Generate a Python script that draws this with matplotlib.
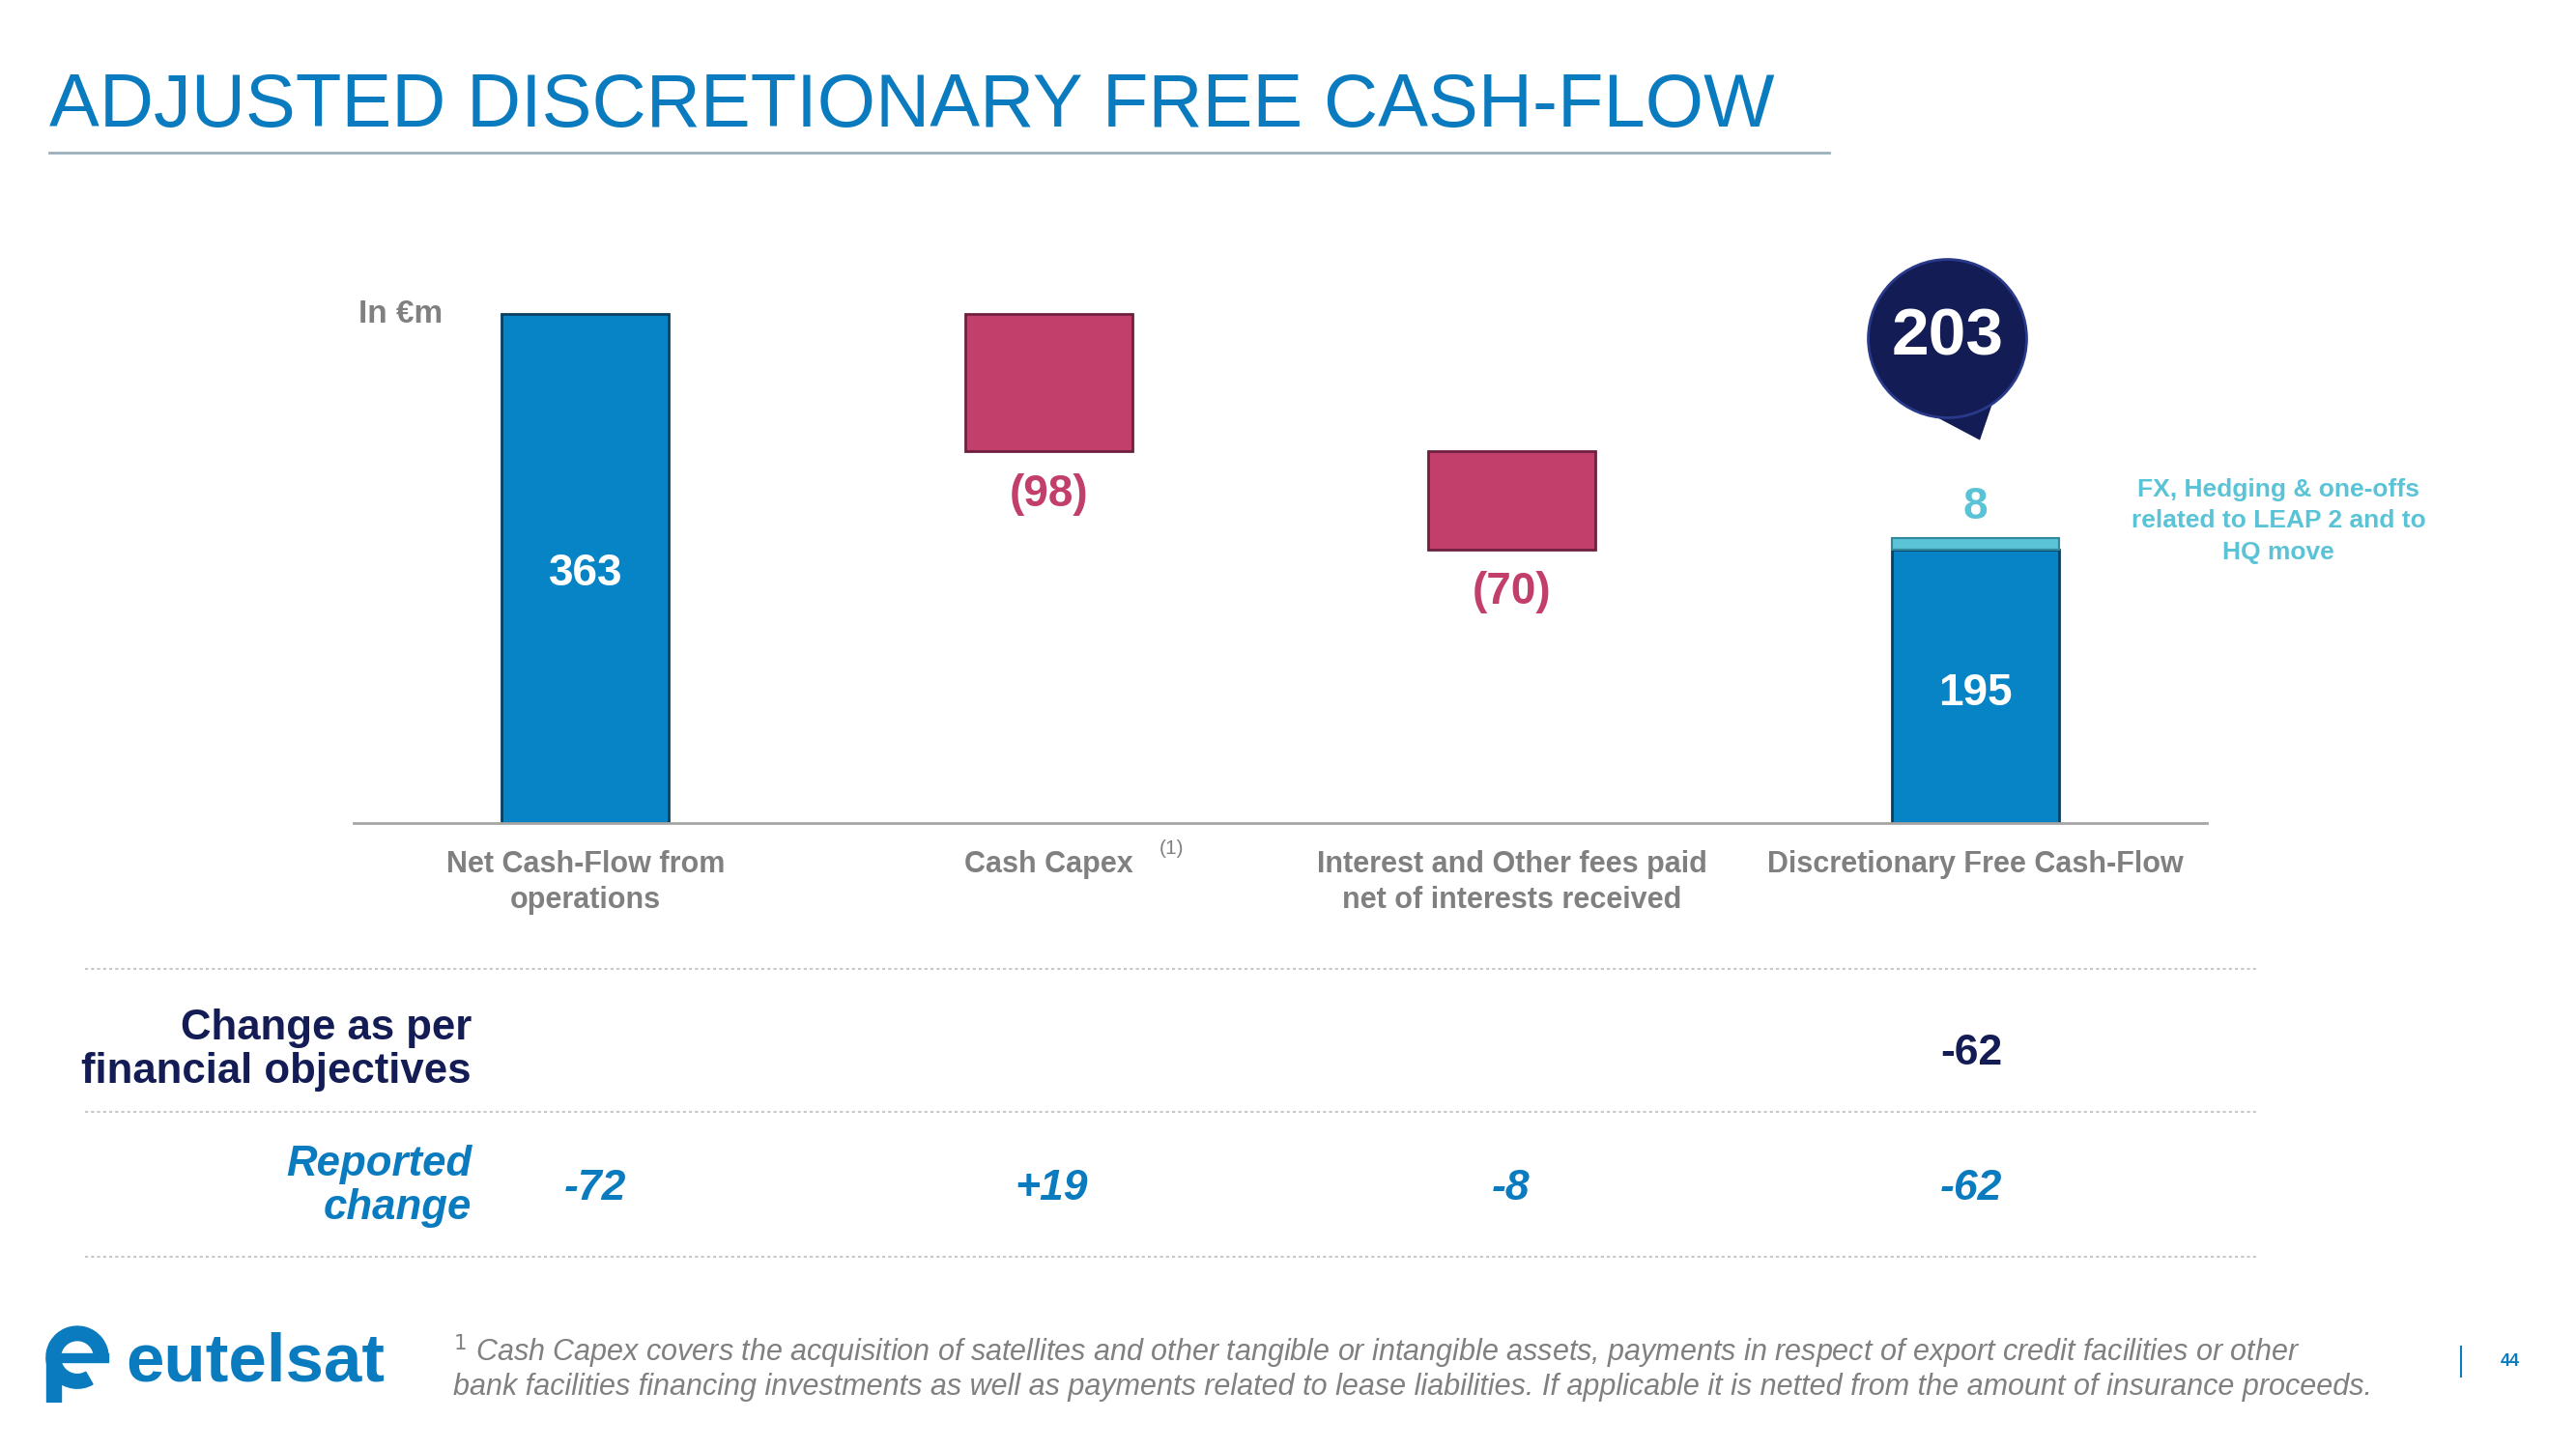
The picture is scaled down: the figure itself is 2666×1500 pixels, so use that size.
import matplotlib
matplotlib.use("Agg")
import matplotlib.pyplot as plt
from matplotlib.patches import Wedge, Rectangle
from matplotlib.lines import Line2D

plt.rcParams['font.family'] = ['Liberation Sans', 'DejaVu Sans']

# ---- data ----
categories = ["Net Cash-Flow from\noperations", "Cash Capex",
              "Interest and Other fees paid\nnet of interests received",
              "Discretionary Free Cash-Flow"]
flows = [363, -98, -70]          # waterfall steps
fcf_core = 195                   # last bar, blue part
fx_oneoffs = 8                   # teal part on top
fcf_total = 203
objective_change = ["", "", "", "-62"]
reported_change = ["-72", "+19", "-8", "-62"]

W, H = 2666, 1500
BLUE = "#0784C6"
PINK = "#C23F6C"
TEAL = "#5BC3D6"
NAVY = "#141C55"
GREY = "#808080"
TITLE_BLUE = "#0A7BBF"


def fx(x):
    return x / W


def fy(y):
    return 1 - y / H


fig = plt.figure(figsize=(W / 100, H / 100), dpi=100)
fig.patch.set_facecolor("white")

# title + underline
fig.text(fx(51), fy(110), "ADJUSTED DISCRETIONARY FREE CASH-FLOW", color=TITLE_BLUE,
         fontsize=56, ha="left", va="center")
fig.add_artist(Line2D([fx(51), fx(1893)], [fy(158), fy(158)], color="#9BB0BA", lw=2))

# ---- waterfall chart ----
ax = fig.add_axes([366 / W, fy(852), 1918 / W, (852 - 200) / H])
ax.set_xlim(-0.5, 3.5)
ax.set_ylim(0, 449)
bw = 0.36

running = 0
for i, v in enumerate(flows):
    bottom = running if v >= 0 else running + v
    col = BLUE if v >= 0 else PINK
    ax.bar(i, abs(v), bottom=bottom, width=bw, color=col,
           edgecolor="#0B3F5E" if v >= 0 else "#6E2040", linewidth=2)
    if v >= 0:
        ax.text(i, bottom + v / 2 - 4, f"{v}", color="white", fontsize=33, fontweight="bold",
                ha="center", va="center")
    else:
        ax.annotate(f"({-v})", (i, bottom), xytext=(0, -32), textcoords="offset points",
                    color=PINK, fontsize=33, fontweight="bold", ha="center", va="center")
    running += v

ax.bar(3, fcf_core, width=bw, color=BLUE, edgecolor="#0B3F5E", linewidth=2)
ax.bar(3, fx_oneoffs, bottom=fcf_core, width=bw, color=TEAL, edgecolor="#2E8A9C", linewidth=1.5)
ax.text(3, fcf_core / 2 - 5, f"{fcf_core}", color="white", fontsize=33, fontweight="bold",
        ha="center", va="center")
ax.annotate(f"{fx_oneoffs}", (3, fcf_total), xytext=(0, 23), textcoords="offset points",
            color=TEAL, fontsize=33, fontweight="bold", ha="center", va="center")
ax.annotate("FX, Hedging & one-offs\nrelated to LEAP 2 and to\nHQ move", (3, fcf_total),
            xytext=(226, 45), textcoords="offset points", color=TEAL, fontsize=19,
            fontweight="bold", ha="center", va="top", linespacing=1.45)

# bubble with total
bx, by = 3 - 0.06, fcf_total + 143
ax.annotate("", xy=(3 + 0.01, fcf_total + 70), xytext=(bx + 0.04, by - 48),
            arrowprops=dict(arrowstyle="wedge,tail_width=0.8,shrink_factor=0.5",
                            mutation_scale=60, color=NAVY, lw=0, shrinkA=0, shrinkB=0),
            zorder=4)
ax.scatter([bx], [by], s=118 ** 2, color=NAVY, edgecolor="#2A3A8A", linewidth=2, zorder=5)
ax.text(bx, by, f"{fcf_total}", color="white", fontsize=50, fontweight="bold",
        ha="center", va="center", zorder=6)

for s in ["top", "right", "left"]:
    ax.spines[s].set_visible(False)
ax.spines["bottom"].set_color("#A6A6A6")
ax.spines["bottom"].set_linewidth(2)
ax.set_yticks([])
ax.set_xticks(range(len(categories)))
ax.set_xticklabels(categories, fontsize=22, fontweight="bold", color=GREY)
ax.tick_params(axis="x", length=0, pad=20)
for lab in ax.get_xticklabels():
    lab.set_linespacing(1.3)
ax.text(1.265, -18, "(1)", fontsize=15, color=GREY, ha="center", va="center", clip_on=False)

fig.text(fx(371), fy(326), "In €m", color=GREY, fontsize=24, fontweight="bold",
         ha="left", va="center")

# ---- table below ----
for yy in [1003, 1151, 1301]:
    fig.add_artist(Line2D([fx(88), fx(2336)], [fy(yy), fy(yy)], color="#C8C8C8",
                          lw=1.5, ls=(0, (1.5, 1.5))))

fig.text(fx(488), fy(1087), "Change as per\nfinancial objectives", color=NAVY, fontsize=31.5,
         fontweight="bold", ha="right", va="center", linespacing=1.15)
fig.text(fx(488), fy(1228), "Reported\nchange", color=TITLE_BLUE, fontsize=31.5,
         fontweight="bold", style="italic", ha="right", va="center", linespacing=1.15)

col_x = [616, 1088, 1564, 2040]
for x, a, b in zip(col_x, objective_change, reported_change):
    if a:
        fig.text(fx(x), fy(1090), a, color=NAVY, fontsize=32, fontweight="bold",
                 ha="center", va="center")
    fig.text(fx(x), fy(1230), b, color=TITLE_BLUE, fontsize=32, fontweight="bold",
             style="italic", ha="center", va="center")

# ---- footnote ----
fig.text(fx(469), fy(1399), r"$^1$ Cash Capex covers the acquisition of satellites and other tangible or "
         "intangible assets, payments in respect of export credit facilities or other",
         color=GREY, fontsize=22, style="italic", ha="left", va="center")
fig.text(fx(469), fy(1436), "bank facilities financing investments as well as payments related to lease "
         "liabilities. If applicable it is netted from the amount of insurance proceeds.",
         color=GREY, fontsize=22, style="italic", ha="left", va="center")

# ---- logo ----
lax = fig.add_axes([fx(45), fy(1452), 70 / W, 85 / H])
lax.set_xlim(-1.2, 1.2)
lax.set_ylim(-1.6, 1.3)
lax.set_aspect("equal")
lax.axis("off")
lax.add_patch(Wedge((0, 0), 1.1, 0, 300, width=0.5, color=TITLE_BLUE))
lax.add_patch(Rectangle((-1.1, -1.6), 0.5, 1.6, color=TITLE_BLUE))
lax.add_patch(Rectangle((-0.6, -0.15), 1.7, 0.3, color=TITLE_BLUE))
fig.text(fx(130), fy(1412), "eutelsat", color=TITLE_BLUE, fontsize=51, fontweight="bold",
         ha="left", va="center")

# page number
fig.add_artist(Line2D([fx(2547), fx(2547)], [fy(1394), fy(1425)], color=TITLE_BLUE, lw=1.5))
fig.text(fx(2598), fy(1410), "44", color=TITLE_BLUE, fontsize=13, fontweight="bold",
         ha="center", va="center")

fig.savefig("out.png", dpi=100, facecolor="white")
